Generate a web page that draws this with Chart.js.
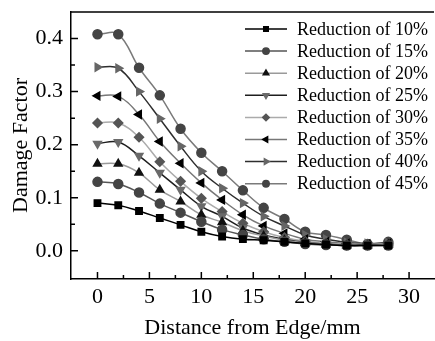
<!DOCTYPE html>
<html>
<head>
<meta charset="utf-8">
<script src="https://cdn.jsdelivr.net/npm/chart.js@4"></script>
<style>
  html, body { margin: 0; padding: 0; background: #fff; overflow: hidden; }
  #wrap { width: 435px; height: 341px; overflow: hidden; }
</style>
</head>
<body>
<div id="wrap"><canvas id="damage-chart" width="440" height="341"></canvas></div>
<script>
// distance from edge (mm)
const distances = [0, 2, 4, 6, 8, 10, 12, 14, 16, 18, 20, 22, 24, 26, 28];
const seriesNames = ['Reduction of 10%', 'Reduction of 15%', 'Reduction of 20%', 'Reduction of 25%',
                     'Reduction of 30%', 'Reduction of 35%', 'Reduction of 40%', 'Reduction of 45%'];
const red10 = [0.090, 0.086, 0.075, 0.062, 0.049, 0.036, 0.027, 0.022, 0.020, 0.017, 0.014, 0.012, 0.010, 0.010, 0.010];
const red15 = [0.130, 0.126, 0.110, 0.089, 0.072, 0.055, 0.040, 0.030, 0.022, 0.017, 0.013, 0.011, 0.010, 0.010, 0.010];
const red20 = [0.164, 0.164, 0.147, 0.115, 0.093, 0.068, 0.054, 0.038, 0.028, 0.020, 0.015, 0.012, 0.010, 0.010, 0.012];
const red25 = [0.202, 0.205, 0.179, 0.147, 0.115, 0.084, 0.065, 0.043, 0.030, 0.022, 0.016, 0.013, 0.011, 0.011, 0.012];
const red30 = [0.241, 0.241, 0.214, 0.168, 0.131, 0.099, 0.074, 0.052, 0.036, 0.025, 0.018, 0.014, 0.012, 0.012, 0.013];
const red35 = [0.292, 0.291, 0.257, 0.206, 0.165, 0.128, 0.096, 0.068, 0.047, 0.033, 0.022, 0.017, 0.014, 0.013, 0.014];
const red40 = [0.346, 0.344, 0.300, 0.249, 0.197, 0.150, 0.118, 0.090, 0.065, 0.047, 0.030, 0.022, 0.016, 0.014, 0.015];
const red45 = [0.408, 0.408, 0.345, 0.293, 0.230, 0.185, 0.150, 0.114, 0.081, 0.060, 0.036, 0.030, 0.021, 0.013, 0.017];
const xTicks = [0, 5, 10, 15, 20, 25, 30];
const yTicks = [0.0, 0.1, 0.2, 0.3, 0.4];

const allSeries = [red10, red15, red20, red25, red30, red35, red40, red45];
// line colour, marker colour, marker style, rotation
const styles = [
    ['#000000', '#000000', 'rect', 0],
    ['#555555', '#444444', 'circle', 0],
    ['#9a9a9a', '#111111', 'triangle', 0],
    ['#1e1e1e', '#6a6a6a', 'triangle', 180],
    ['#ababab', '#555555', 'rectRot', 0],
    ['#777777', '#000000', 'triangle', 270],
    ['#2e2e2e', '#666666', 'triangle', 90],
    ['#7a7a7a', '#444444', 'circle', 0]
];

const datasets = allSeries.map((vals, i) => ({
    label: seriesNames[i],
    data: vals.map((v, j) => ({ x: distances[j], y: v })),
    borderColor: styles[i][0],
    backgroundColor: styles[i][1],
    pointBorderColor: styles[i][1],
    pointBackgroundColor: styles[i][1],
    pointStyle: styles[i][2],
    rotation: styles[i][3],
    pointRadius: 4.5,
    borderWidth: 1.5,
    tension: 0.4
}));

const serif = 'Liberation Serif, Times New Roman, serif';

// inward tick marks, top frame line and the line+marker legend
const framePlugin = {
    id: 'frame',
    afterDraw(chart) {
        const ctx = chart.ctx;
        const area = chart.chartArea;
        const xs = chart.scales.x, ys = chart.scales.y;
        ctx.save();
        ctx.strokeStyle = '#000';
        ctx.lineWidth = 1.5;
        ctx.beginPath();
        ctx.moveTo(area.left, area.top);
        ctx.lineTo(area.right, area.top);
        xTicks.forEach(v => {
            const px = xs.getPixelForValue(v);
            ctx.moveTo(px, area.bottom); ctx.lineTo(px, area.bottom - 7);
            const mx = xs.getPixelForValue(v + 2.5);
            if (mx < area.right) { ctx.moveTo(mx, area.bottom); ctx.lineTo(mx, area.bottom - 4); }
        });
        yTicks.forEach(v => {
            const py = ys.getPixelForValue(v);
            ctx.moveTo(area.left, py); ctx.lineTo(area.left + 7, py);
            const my = ys.getPixelForValue(v + 0.05);
            if (my > area.top) { ctx.moveTo(area.left, my); ctx.lineTo(area.left + 4, my); }
        });
        ctx.stroke();

        // legend
        ctx.font = '18px ' + serif;
        ctx.textBaseline = 'middle';
        ctx.textAlign = 'left';
        chart.data.datasets.forEach((ds, i) => {
            const y = 29 + i * 22.1;
            ctx.strokeStyle = ds.borderColor;
            ctx.lineWidth = 1.5;
            ctx.beginPath();
            ctx.moveTo(245, y); ctx.lineTo(287, y);
            ctx.stroke();
            ctx.fillStyle = ds.pointBackgroundColor;
            ctx.strokeStyle = ds.pointBorderColor;
            Chart.helpers.drawPoint(ctx, { pointStyle: ds.pointStyle, radius: 3.2, rotation: ds.rotation, borderWidth: 1 }, 266, y);
            ctx.fillStyle = '#000';
            ctx.fillText(ds.label, 297, y + 1);
        });
        ctx.restore();
    }
};

function noEdgePadding(s) {
    s.paddingTop = 0; s.paddingBottom = 0; s.paddingLeft = 0; s.paddingRight = 0;
}

const ctx = document.getElementById('damage-chart').getContext('2d');
window.damageChart = new Chart(ctx, {
    type: 'line',
    data: { datasets: datasets },
    options: {
        responsive: false,
        animation: false,
        layout: { padding: { top: 12, right: 3, left: 0, bottom: 0 } },
        plugins: { legend: { display: false }, tooltip: { enabled: false } },
        scales: {
            x: {
                type: 'linear',
                min: -2.55,
                max: 32.4,
                afterBuildTicks: s => { s.ticks = xTicks.map(v => ({ value: v })); },
                afterFit: s => { s.height = 62; noEdgePadding(s); },
                grid: { display: false, drawTicks: false },
                border: { display: true, color: '#000', width: 1.5 },
                ticks: { color: '#000', padding: 5, font: { family: serif, size: 22 } },
                title: {
                    display: true, text: 'Distance from Edge/mm', color: '#000',
                    padding: { top: 0, bottom: 0 }, font: { family: serif, size: 22 }
                }
            },
            y: {
                min: -0.053,
                max: 0.45,
                afterBuildTicks: s => { s.ticks = yTicks.map(v => ({ value: v })); },
                afterFit: s => { s.width = 71; noEdgePadding(s); },
                grid: { display: false, drawTicks: false },
                border: { display: true, color: '#000', width: 1.5 },
                ticks: { color: '#000', padding: 8, font: { family: serif, size: 22 }, callback: v => v.toFixed(1) },
                title: {
                    display: true, text: 'Damage Factor', color: '#000',
                    padding: { top: 8, bottom: 0 }, font: { family: serif, size: 22 }
                }
            }
        }
    },
    plugins: [framePlugin]
});
</script>
</body>
</html>
